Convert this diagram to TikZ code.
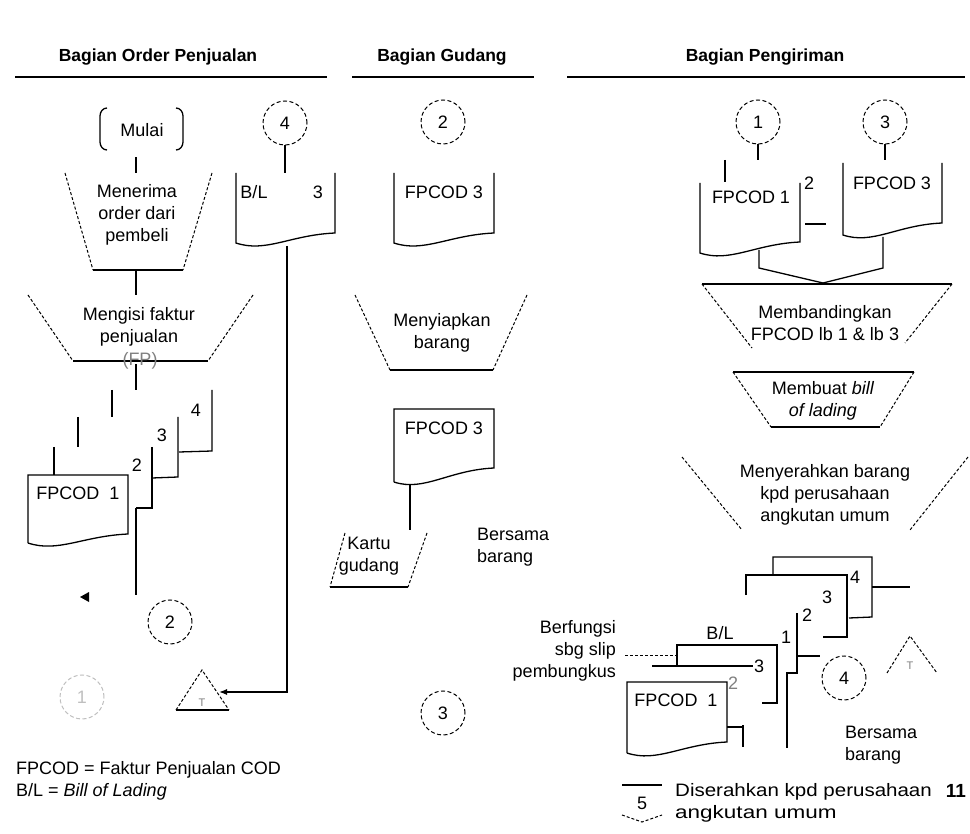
\documentclass[tikz,border=0pt]{standalone}
\usepackage{fontspec}
\setmainfont{Liberation Sans}
\usetikzlibrary{arrows.meta}
\begin{document}
\begin{tikzpicture}[x=1pt,y=-1pt,
  ln/.style={line width=1.3pt},
  dsh/.style={line width=1pt, dash pattern=on 3pt off 2pt},
  conn/.style={circle, draw, line width=1pt, dash pattern=on 4pt off 2.5pt, minimum size=44pt, inner sep=0pt, font=\fontsize{18}{20}\selectfont},
  txt/.style={font=\fontsize{18}{22}\selectfont, align=center, inner sep=0pt},
  lbl/.style={font=\fontsize{18}{20}\selectfont, inner sep=0pt},
  hdr/.style={font=\fontsize{17.5}{21}\selectfont\bfseries, inner sep=0pt},
  tri/.style={font=\fontsize{11}{12}\selectfont, inner sep=0pt, text=gray}
]
\useasboundingbox (0,0) rectangle (970,834);

% ---------- headers ----------
\node[hdr] (h1) at (158,57) {Bagian Order Penjualan};
\draw[ln] (15,77) -- (327,77);
\node[hdr] (h2) at (442,57) {Bagian Gudang};
\draw[ln] (352,77) -- (534,77);
\node[hdr] (h3) at (765,57) {Bagian Pengiriman};
\draw[ln] (567,77) -- (965,77);

% ================= Bagian Order Penjualan =================
\node[txt, minimum height=54pt] (mulai) at (142,130) {Mulai};
\draw[ln] (107,108) to[out=180,in=90] (100,116) -- (100,142) to[out=-90,in=180] (107,150);
\draw[ln] (176,108) to[out=0,in=90] (183,116) -- (183,142) to[out=-90,in=0] (176,150);
\coordinate (t1n) at (136,173);
\draw[ln] (mulai.south -| t1n) -- (t1n);

% Menerima order
\draw[dsh] (65,173) -- (93,270);
\draw[dsh] (212,173) -- (183,270);
\draw[ln] (93,270) -- (183,270);
\node[txt] (t1) at (137,215) {Menerima\\order dari\\pembeli};
\coordinate (t1s) at (136,270);
\coordinate (t2n) at (136,295);
\draw[ln] (t1s) -- (t2n);

% Mengisi faktur
\draw[dsh] (28,295) -- (73,361);
\draw[dsh] (253,295) -- (208,361);
\draw[ln] (73,361) -- (208,361);
\node[txt] (t2) at (139,327) {Mengisi faktur\\penjualan};
\node[lbl, text=gray] (fp) at (140,361) {(FP)};
\coordinate (t2s) at (136,364);
\coordinate (stk) at (136,390);
\draw[ln] (t2s) -- (stk);

% stacked FPCOD copies
\draw[ln] (112,390) -- (112,417);
\draw[ln] (212,390) -- (212,451) -- (179,452);
\draw[ln] (78,417) -- (78,447);
\draw[ln] (178,417) -- (178,477) -- (152,478);
\draw[ln] (54,447) -- (54,475);
\draw[ln] (152,447) -- (152,508) -- (136,508);
\coordinate (stkbot) at (136,595);
\draw[ln] (136,508) -- (stkbot);
\draw[ln] (28,543) -- (28,475) -- (128,475) -- (128,534)
      .. controls +(-45,2) and +(30,10) .. (28,543);
\node[lbl] (l4) at (196,410) {4};
\node[lbl] (l3) at (162,435) {3};
\node[lbl] (l2) at (137,465) {2};
\node[lbl] (fp1) at (78,493) {FPCOD\hspace{10pt}1};
\fill (80,597) -- (89,592) -- (89,602) -- cycle;

\node[conn] (c2a) at (170,622) {2};
\node[conn, draw=gray!50, text=gray!50] (c1a) at (82,697) {1};

% file triangle
\draw[dsh] (176,710) -- (202,670) -- (229,710);
\draw[ln] (176,710) -- (229,710);
\node[tri] (ta) at (202,703) {T};

% B/L doc
\node[conn] (c4a) at (285,123) {4};
\coordinate (bln) at (285,173);
\draw[ln] (c4a) -- (bln);
\draw[ln] (236,173) -- (236,243) .. controls +(30,10) and +(-45,2) .. (335,233) -- (335,173);
\node[lbl] (bl) at (254,192) {B/L};
\node[lbl] (bl3) at (318,192) {3};
\coordinate (bls) at (287,246);
\coordinate (blc) at (287,692);
\coordinate (tip) at (219,692);
\draw[ln, -{Latex[length=8pt,width=6pt]}] (bls) -- (blc) -- (tip);

% legend
\node[txt, anchor=west] (lg1) at (16,770) {FPCOD = Faktur Penjualan COD};
\node[txt, anchor=west] (lg2) at (16,792) {B/L = \textit{Bill of Lading}};

% ================= Bagian Gudang =================
\node[conn] (c2b) at (443,122) {2};
\draw[ln] (394,173) -- (394,243) .. controls +(30,10) and +(-45,2) .. (494,233) -- (494,173);
\node[lbl] (g1) at (444,192) {FPCOD 3};

\draw[dsh] (355,295) -- (390,370);
\draw[dsh] (527,295) -- (493,370);
\draw[ln] (390,370) -- (493,370);
\node[txt] (t3) at (442,333) {Menyiapkan\\barang};

\draw[ln] (394,482) -- (394,409) -- (494,409) -- (494,468)
      .. controls +(-45,2) and +(30,10) .. (394,482);
\node[lbl] (g2) at (444,428) {FPCOD 3};
\coordinate (g2s) at (410,484);
\coordinate (kn) at (410,530);
\draw[ln] (g2s) -- (kn);

\draw[dsh] (345,533) -- (330,587);
\draw[dsh] (427,533) -- (408,587);
\draw[ln] (330,587) -- (408,587);
\node[txt] (kartu) at (369,556) {Kartu\\gudang};
\node[txt, anchor=west, align=left] (bers1) at (477,547) {Bersama\\barang};

\node[conn] (c3b) at (443,713) {3};

% ================= Bagian Pengiriman =================
\node[conn] (c1c) at (758,122) {1};
\node[conn] (c3c) at (885,122) {3};
\coordinate (d1n) at (758,160);
\coordinate (d3n) at (885,160);
\draw[ln] (c1c) -- (d1n);
\draw[ln] (c3c) -- (d3n);

\draw[ln] (725,160) -- (725,182);
\draw[ln] (700,183) -- (700,253) .. controls +(30,10) and +(-45,2) .. (800,242) -- (800,183);
\node[lbl] (p1) at (751,197) {FPCOD 1};
\node[lbl] (p2) at (809,183) {2};
\draw[ln] (805,224) -- (826,224);
\draw[ln] (843,163) -- (843,235) .. controls +(30,10) and +(-45,2) .. (942,223) -- (942,163);
\node[lbl] (p3) at (892,183) {FPCOD 3};

\coordinate (mg) at (823,283);
\draw[ln] (759,250) -- (759,268) -- (mg);
\draw[ln] (883,237) -- (883,268) -- (mg);

% Membandingkan
\draw[ln] (702,284) -- (952,284);
\draw[dsh] (702,284) -- (752,348);
\draw[dsh] (952,284) -- (905,343);
\node[txt] (t4) at (825,323) {Membandingkan\\FPCOD lb 1 \& lb 3};

% Membuat bill of lading
\draw[ln] (733,372) -- (914,372);
\draw[dsh] (733,372) -- (771,427);
\draw[dsh] (914,372) -- (880,427);
\draw[ln] (771,427) -- (880,427);
\node[txt] (t5) at (823,401) {Membuat \textit{bill}\\\textit{of lading}};

% Menyerahkan barang
\draw[dsh] (682,457) -- (742,530);
\draw[dsh] (968,457) -- (910,530);
\node[txt] (t6) at (825,495) {Menyerahkan barang\\kpd perusahaan\\angkutan umum};

% B/L copies
\draw[ln] (773,575) -- (773,557) -- (872,557) -- (872,617) -- (849,618);
\coordinate (bl4r) at (872,587);
\coordinate (fileT) at (910,587);
\draw[ln] (bl4r) -- (fileT);
\draw[ln] (746,595) -- (746,575) -- (847,575) -- (847,637) -- (823,637);
\draw[ln] (797,613) -- (797,673) -- (787,673) -- (787,748);
\draw[ln] (797,656) -- (820,656);
\draw[ln] (677,666) -- (677,645) -- (777,645) -- (777,703) -- (762,703);
\coordinate (slip) at (625,655);
\coordinate (slipe) at (677,655);
\draw[dsh] (slip) -- (slipe);
\node[lbl] (b4) at (855,577) {4};
\node[lbl] (b3) at (827,597) {3};
\node[lbl] (b2) at (807,615) {2};
\node[lbl] (b1) at (786,637) {1};
\node[lbl] (bln2) at (720,633) {B/L};

% FPCOD copies
\draw[ln] (652,666) -- (753,666);
\node[lbl] (f3) at (759,666) {3};
\node[lbl, text=gray] (f2) at (733,683) {2};
\draw[ln] (627,753) -- (627,682) -- (727,682) -- (727,742)
      .. controls +(-45,2) and +(30,10) .. (627,753);
\node[lbl] (f1) at (676,700) {FPCOD\hspace{10pt}1};
\draw[ln] (727,727) -- (743,727);
\draw[ln] (743,725) -- (743,747);

\node[conn] (c4c) at (844,678) {4};
\draw[dsh] (887,673) -- (910,636) -- (937,673);
\node[tri] (tb) at (910,666) {T};

\node[txt, anchor=east, align=right] (slipt) at (616,651) {Berfungsi\\sbg slip\\pembungkus};
\node[txt, anchor=west, align=left] (bers2) at (845,745) {Bersama\\barang};

% off-page connector
\draw[ln] (622,785) -- (662,785);
\node[lbl] (op5) at (642,803) {5};
\draw[dsh] (622,815) -- (642,822) -- (662,815);

\node[txt, anchor=west, align=left] (dis) at (675,803)
  {\scalebox{1.14}[1]{Diserahkan kpd perusahaan}\\\scalebox{1.25}[1]{angkutan umum}};
\node[lbl, font=\fontsize{19}{20}\selectfont\bfseries] (pg) at (956,791) {11};
\end{tikzpicture}
\end{document}
